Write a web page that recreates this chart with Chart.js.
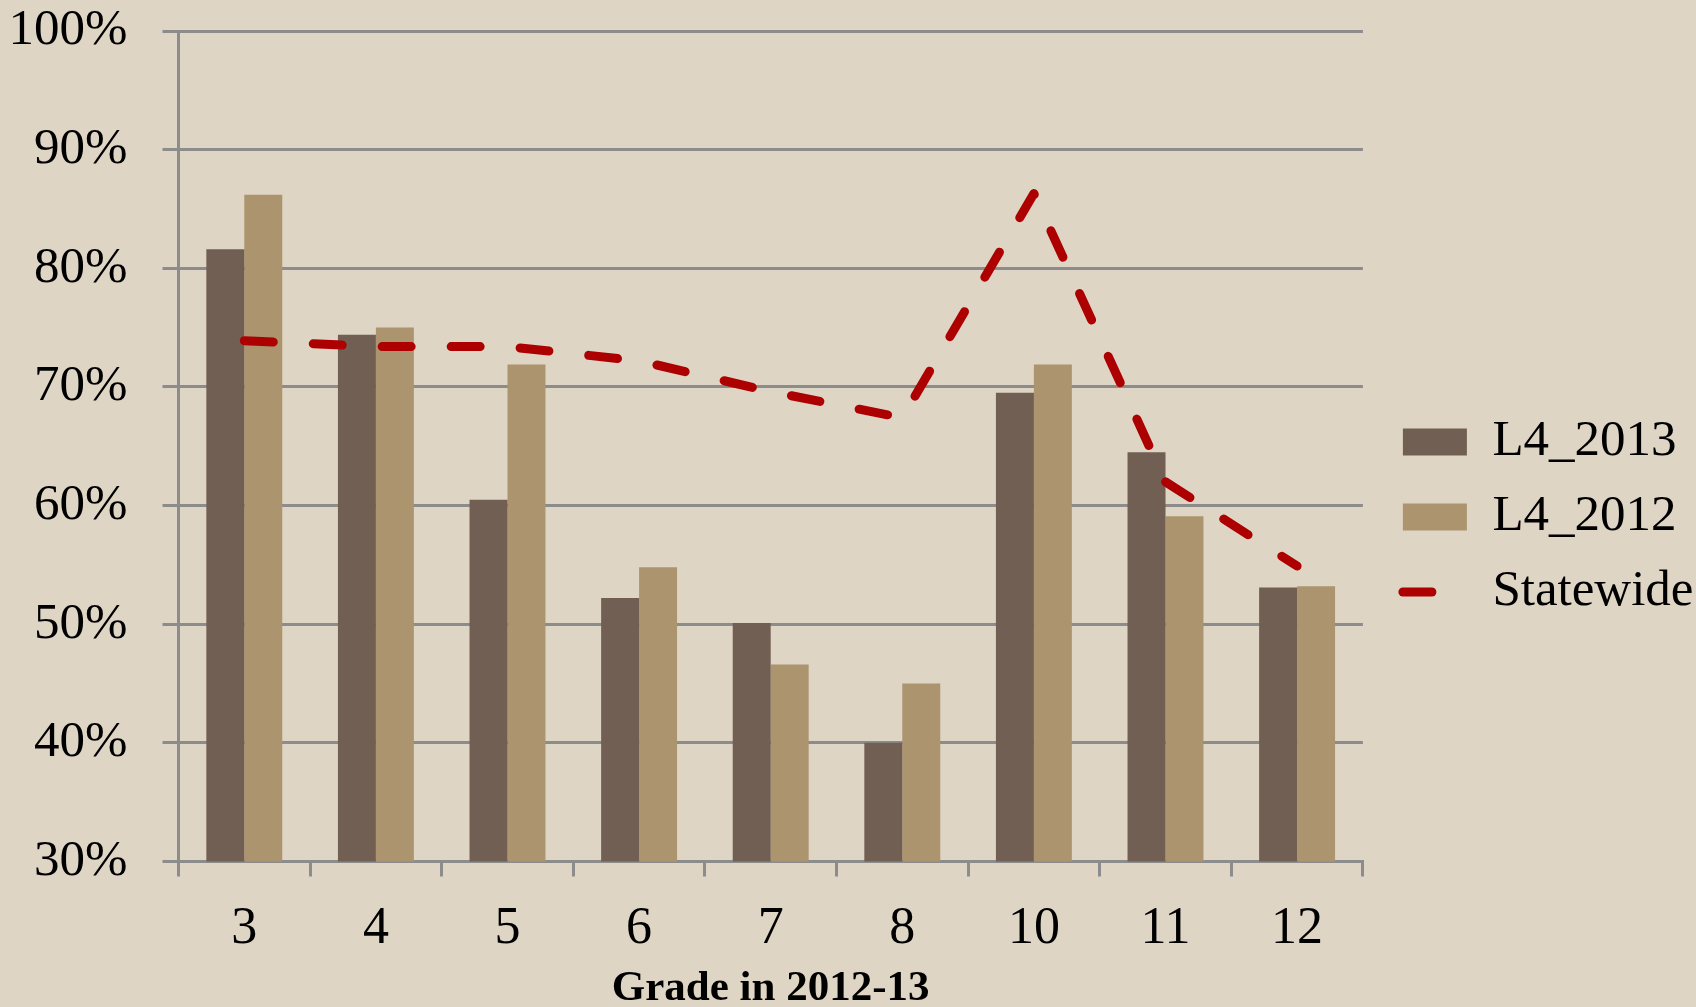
<!DOCTYPE html>
<html>
<head>
<meta charset="utf-8">
<script src="https://cdn.jsdelivr.net/npm/chart.js@4.4.0/dist/chart.umd.min.js"></script>
<style>
  html, body { margin: 0; padding: 0; background: #dfd5c4; }
  #wrap { width: 1696px; height: 1007px; }
</style>
</head>
<body>
<div id="wrap"><canvas id="bar-chart" width="1696" height="1007"></canvas></div>
<script>
// values (percent)
var grades = ["3", "4", "5", "6", "7", "8", "10", "11", "12"];
var l4_2013 = [81.6, 74.4, 60.5, 52.2, 50.1, 40.0, 69.5, 64.5, 53.1];
var l4_2012 = [86.2, 75.0, 71.9, 54.8, 46.6, 45.0, 71.9, 59.1, 53.2];
var statewide = [73.9, 73.4, 73.4, 72.2, 69.6, 67.4, 86.3, 62.0, 54.9];
var yMin = 30, yMax = 100, yStep = 10;

var gridGrey = '#8c8c8c';
Chart.defaults.font.family = "'Liberation Serif', 'Times New Roman', serif";
Chart.defaults.color = '#000';

new Chart(document.getElementById("bar-chart"), {
    type: 'bar',
    data: {
      labels: grades,
      datasets: [
        {
          label: "L4_2013",
          data: l4_2013,
          backgroundColor: '#715f53',
          borderWidth: 0,
          order: 1
        },
        {
          label: "L4_2012",
          data: l4_2012,
          backgroundColor: '#ab946e',
          borderWidth: 0,
          order: 1
        },
        {
          type: 'line',
          label: "Statewide",
          data: statewide,
          borderColor: '#ad0000',
          backgroundColor: '#ad0000',
          borderWidth: 9,
          borderDash: [29, 40],
          borderCapStyle: 'round',
          borderJoinStyle: 'round',
          pointRadius: 0,
          tension: 0,
          fill: false,
          order: 0
        }
      ]
    },
    options: {
        responsive: false,
        animation: false,
        layout: {
            padding: { left: 0, top: 27, right: -7.5, bottom: 0 }
        },
        datasets: {
            bar: { categoryPercentage: 0.577, barPercentage: 1.0 }
        },
        scales: {
            x: {
                grid: {
                    display: true,
                    drawOnChartArea: false,
                    tickLength: 15,
                    color: gridGrey,
                    lineWidth: 3,
                    offset: true
                },
                border: { display: true, color: gridGrey, width: 3 },
                ticks: { font: { size: 52 }, padding: 22 },
                title: {
                    display: true,
                    text: 'Grade in 2012-13',
                    font: { size: 43, weight: 'bold' },
                    padding: { top: 0, bottom: -8 }
                },
                afterFit: function(scale) { scale.height = 145.5; }
            },
            y: {
                min: yMin,
                max: yMax,
                ticks: {
                    stepSize: yStep,
                    font: { size: 51 },
                    padding: 35,
                    callback: function(v) { return v + '%'; }
                },
                grid: { color: gridGrey, lineWidth: 3, tickLength: 16 },
                border: { display: true, color: gridGrey, width: 3 },
                afterFit: function(scale) {
                    scale.width = 178.5;
                    scale.paddingTop = 31;
                    scale.paddingBottom = 0;
                }
            },
            // empty spacer between plot and legend
            gap: {
                position: 'right',
                display: true,
                grid: { display: false },
                border: { display: false },
                ticks: { display: false },
                afterFit: function(scale) { scale.width = 16; }
            }
        },
        plugins: {
            tooltip: { enabled: false },
            legend: {
                display: true,
                position: 'right',
                maxWidth: 420,
                labels: {
                    usePointStyle: true,
                    pointStyleWidth: 64,
                    boxHeight: 27,
                    padding: 24,
                    font: { size: 51 },
                    sort: function(a, b) { return a.datasetIndex - b.datasetIndex; },
                    generateLabels: function(chart) {
                        var items = Chart.defaults.plugins.legend.labels.generateLabels(chart);
                        items.forEach(function(item) {
                            var ds = chart.data.datasets[item.datasetIndex];
                            if (ds.type === 'line') {
                                item.pointStyle = 'line';
                                item.lineWidth = 9;
                                item.strokeStyle = ds.borderColor;
                                item.lineDash = [29, 40];
                                item.lineCap = 'round';
                            } else {
                                item.pointStyle = 'rect';
                                item.lineWidth = 0;
                            }
                        });
                        return items;
                    }
                }
            }
        }
    }
});
</script>
</body>
</html>
